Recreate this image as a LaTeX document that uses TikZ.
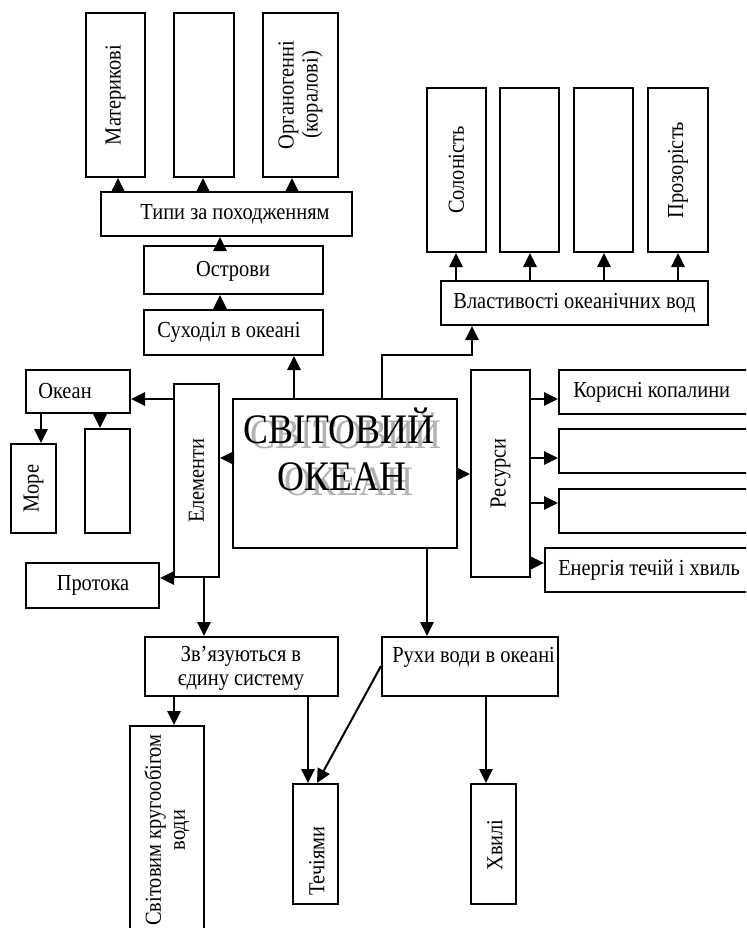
\documentclass[tikz,border=0pt]{standalone}
\usepackage{fontspec}
\setmainfont{Liberation Serif}[FakeStretch=0.89]
\usetikzlibrary{arrows.meta}
\newcommand{\bx}[5]{\node[box, minimum width={(#4-#2)*0.75pt}, minimum height={(#5-#3)*0.75pt}] (#1) at ({(#2+#4)/2},{(#3+#5)/2}) {};}
\tikzset{
  box/.style={draw, line width=1.5pt, inner sep=0pt, fill=white},
  lbl/.style={font=\fontsize{17.2}{18}\selectfont, align=center, inner sep=0pt},
  ttl/.style={font=\fontsize{31.5}{35}\selectfont, inner sep=0pt, anchor=base},
  arr/.style={line width=1.5pt, -{Triangle[length=10.5pt,width=10pt]}},
  ln/.style={line width=1.5pt}
}
\begin{document}
\begin{tikzpicture}[x=0.75pt,y=-0.75pt]
\useasboundingbox (0,0) rectangle (746,928);
\clip (0,0) rectangle (746,928);
% boxes
\bx{mat}{86}{13}{145}{177}
\bx{ea}{174}{13}{234}{177}
\bx{org}{263}{13}{338}{177}
\bx{tipy}{101}{192}{352}{236}
\bx{ostr}{144}{246}{323}{294}
\bx{such}{144}{310}{323}{355}
\bx{sol}{427}{88}{486}{252}
\bx{eb}{500}{88}{559}{252}
\bx{ec}{574}{88}{633}{252}
\bx{proz}{648}{88}{708}{252}
\bx{vlast}{441}{281}{708}{325}
\bx{okean}{26}{370}{130}{413}
\bx{more}{11}{444}{56}{533}
\bx{ed}{85}{429}{130}{533}
\bx{elem}{174}{384}{219}{577}
\bx{svit}{233}{399}{457}{548}
\bx{res}{471}{370}{530}{577}
\bx{kor}{559}{370}{760}{414}
\bx{rb}{559}{429}{760}{473}
\bx{rc}{559}{489}{760}{533}
\bx{en}{545}{548}{760}{592}
\bx{prot}{26}{563}{159}{608}
\bx{zv}{145}{637}{338}{696}
\bx{ruh}{382}{637}{558}{696}
\bx{krug}{130}{726}{204}{945}
\bx{tech}{293}{784}{338}{904}
\bx{hv}{471}{784}{516}{904}
% labels
\node[lbl, rotate=90] (matT) at (mat.center) {Материкові};
\node[lbl, rotate=90] (orgT) at (org.center) {Органогенні\\(коралові)};
\node[lbl] (tipyT) at (235,214) {Типи за походженням};
\node[lbl] (ostrT) at (233,271) {Острови};
\node[lbl] (suchT) at (229,332) {Суходіл в океані};
\node[lbl, rotate=90] (solT) at (sol.center) {Солоність};
\node[lbl, rotate=90] (prozT) at (proz.center) {Прозорість};
\node[lbl] (vlastT) at (vlast.center) {Властивості океанічних вод};
\node[lbl, anchor=west] (okeanT) at (38,391) {Океан};
\node[lbl, rotate=90] (moreT) at (more.center) {Море};
\node[lbl, rotate=90] (elemT) at (elem.center) {Елементи};
\node[lbl, rotate=90] (resT) at (res.center) {Ресурси};
\node[lbl, anchor=west] (korT) at (573,392) {Корисні копалини};
\node[lbl, anchor=west] (enT) at (558,570) {Енергія течій і хвиль};
\node[lbl] (protT) at (93,585) {Протока};
\node[lbl] (zvT) at (241,668) {Зв’язуються в\\єдину систему};
\node[lbl, anchor=west] (ruhT) at (392,657) {Рухи води в океані};
\node[lbl, rotate=90] (krugT) at (167,830) {Світовим кругообігом\\води};
\node[lbl, rotate=90] (techT) at (317,861) {Течіями};
\node[lbl, rotate=90] (hvT) at (495,845) {Хвилі};
% title with shadow
\node[ttl, text=black!30] (svitS1) at (346,448) {СВІТОВИЙ};
\node[ttl, text=black!30] (svitS2) at (349,495) {ОКЕАН};
\node[ttl] (svit1) at (339,443) {СВІТОВИЙ};
\node[ttl] (svit2) at (342,490) {ОКЕАН};
% connectors
\draw[arr] (118,0 |- tipy.north) -- (118,0 |- mat.south);
\draw[arr] (203,0 |- tipy.north) -- (203,0 |- ea.south);
\draw[arr] (292,0 |- tipy.north) -- (292,0 |- org.south);
\draw[arr] (220,0 |- ostr.north) -- (220,0 |- tipy.south);
\draw[arr] (220,0 |- such.north) -- (220,0 |- ostr.south);
\draw[arr] (294,0 |- svit.north) -- (294,0 |- such.south);
\coordinate (bend) at (382,355);
\draw[arr] (382,0 |- svit.north) -- (bend) -| (472,0 |- vlast.south);
\draw[arr] (456,0 |- vlast.north) -- (456,0 |- sol.south);
\draw[arr] (530,0 |- vlast.north) -- (530,0 |- eb.south);
\draw[arr] (604,0 |- vlast.north) -- (604,0 |- ec.south);
\draw[arr] (678,0 |- vlast.north) -- (678,0 |- proz.south);
\draw[arr] (elem.west |- 0,399) -- (okean.east |- 0,399);
\draw[arr] (41,0 |- okean.south) -- (41,0 |- more.north);
\draw[arr] (100,0 |- okean.south) -- (100,0 |- ed.north);
\draw[arr] (svit.west |- 0,458) -- (elem.east |- 0,458);
\draw[arr] (elem.south west) -- (prot.east |- elem.south west);
\draw[arr] (204,0 |- elem.south) -- (204,0 |- zv.north);
\draw[arr] (svit.east |- 0,474) -- (res.west |- 0,474);
\draw[arr] (res.east |- 0,399) -- (kor.west |- 0,399);
\draw[arr] (res.east |- 0,458) -- (rb.west |- 0,458);
\draw[arr] (res.east |- 0,503) -- (rc.west |- 0,503);
\draw[arr] (res.east |- 0,563) -- (en.west |- 0,563);
\draw[arr] (427,0 |- svit.south) -- (427,0 |- ruh.north);
\draw[arr] (174,0 |- zv.south) -- (174,0 |- krug.north);
\draw[arr] (308,0 |- zv.south) -- (308,0 |- tech.north);
\draw[arr] (ruh.west |- 0,666) -- (317,0 |- tech.north);
\draw[arr] (486,0 |- ruh.south) -- (486,0 |- hv.north);
\end{tikzpicture}
\end{document}
